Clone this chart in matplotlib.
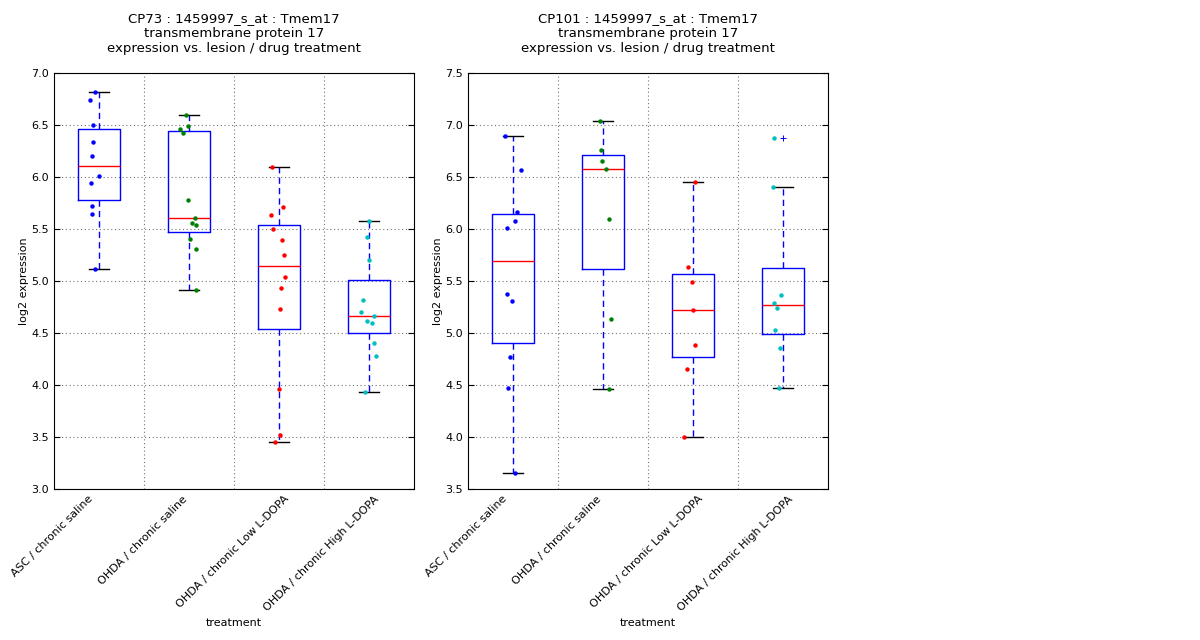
import numpy as np
import matplotlib.pyplot as plt
from matplotlib.transforms import ScaledTranslation

groups = ['ASC / chronic saline', 'OHDA / chronic saline',
          'OHDA / chronic Low L-DOPA', 'OHDA / chronic High L-DOPA']
dot_colors = ['b', 'g', 'r', 'c']
# small horizontal nudge (pixels) of each tick label, as in the original
label_nudge = [-4, 0, 12, 12]

# CP73
cp73_vals = [
    [6.817, 6.743, 6.503, 6.340, 6.205, 6.010, 5.945, 5.724, 5.647, 5.115],
    [6.599, 6.494, 6.465, 6.426, 5.782, 5.609, 5.561, 5.542, 5.407, 5.311, 4.913],
    [6.099, 5.715, 5.638, 5.503, 5.397, 5.253, 5.041, 4.936, 4.734, 3.964, 3.522, 3.455],
    [5.580, 5.423, 5.202, 4.817, 4.702, 4.667, 4.615, 4.599, 4.407, 4.279, 3.933],
]
cp73_jit = [
    [-0.041, -0.096, -0.070, -0.063, -0.081, 0.004, -0.093, -0.081, -0.074, -0.041],
    [-0.037, -0.007, -0.096, -0.063, -0.007, 0.063, 0.037, 0.074, 0.015, 0.081, 0.074],
    [-0.081, 0.041, -0.093, -0.070, 0.030, 0.052, 0.063, 0.019, 0.007, -0.004, 0.007, -0.048],
    [0.004, -0.026, -0.004, -0.070, -0.093, 0.052, -0.026, 0.030, 0.052, 0.074, -0.048],
]

# CP101
cp101_vals = [
    [6.897, 6.570, 6.167, 6.080, 6.013, 5.378, 5.311, 4.772, 4.474, 3.654],
    [7.041, 6.763, 6.657, 6.580, 6.099, 5.137, 4.462],
    [6.455, 5.638, 5.490, 5.221, 4.888, 4.657, 4.000],
    [6.878, 6.407, 5.368, 5.291, 5.243, 5.032, 4.859, 4.474],
]
cp101_jit = [
    [-0.093, 0.093, 0.048, 0.019, -0.070, -0.070, -0.007, -0.030, -0.052, 0.019],
    [-0.037, -0.026, -0.015, 0.030, 0.063, 0.085, 0.063],
    [0.019, -0.052, -0.007, 0.004, 0.019, -0.063, -0.096],
    [-0.096, -0.107, -0.026, -0.104, -0.070, -0.093, -0.037, -0.048],
]

titles = ['CP73 : 1459997_s_at : Tmem17\ntransmembrane protein 17\nexpression vs. lesion / drug treatment',
          'CP101 : 1459997_s_at : Tmem17\ntransmembrane protein 17\nexpression vs. lesion / drug treatment']
ylims = [(3.0, 7.0), (3.5, 7.5)]

grid_kw = dict(color='0.45', ls=(0, (1, 2.4)), lw=0.8)


def draw_panel(ax, vals, jit, title, ylim):
    pos = np.arange(1, len(vals) + 1)
    ax.boxplot(vals, positions=pos, widths=0.46, sym='b+',
               boxprops=dict(color='b', lw=1),
               whiskerprops=dict(color='b', ls=(0, (4.5, 3)), lw=1),
               capprops=dict(color='k', lw=1),
               medianprops=dict(color='r', lw=1),
               flierprops=dict(marker='+', markeredgecolor='b', markersize=5, mew=0.7))
    for i, (v, j) in enumerate(zip(vals, jit)):
        ax.plot(pos[i] + np.array(j), v, 'o', color=dot_colors[i],
                markersize=3.2, mew=0, zorder=3)
    ax.set_xlim(0.5, len(vals) + 0.5)
    ax.set_ylim(*ylim)
    yt = np.arange(ylim[0], ylim[1] + 0.01, 0.5)
    ax.set_yticks(yt)
    ax.set_yticklabels(['%.1f' % t for t in yt])
    ax.set_xticks(pos)
    ax.set_xticks(pos[:-1] + 0.5, minor=True)
    ax.tick_params(axis='x', which='both', length=0)
    ax.tick_params(axis='y', direction='in', right=True, length=4, labelsize=8)
    labels = ax.set_xticklabels(groups, rotation=45, ha='right', fontsize=8)
    for lab, dx in zip(labels, label_nudge):
        lab.set_transform(lab.get_transform() +
                          ScaledTranslation(dx / 100, 0, ax.figure.dpi_scale_trans))
    ax.grid(axis='y', which='major', **grid_kw)
    ax.grid(axis='x', which='minor', **grid_kw)
    ax.set_title(title, fontsize=9.5, pad=15)
    ax.set_xlabel('treatment', fontsize=8)
    ax.set_ylabel('log2 expression', fontsize=8, labelpad=2)


fig = plt.figure(figsize=(12, 6.4), dpi=100)
ax1 = fig.add_axes([0.045, 0.236, 0.3, 0.65])
ax2 = fig.add_axes([0.39, 0.236, 0.3, 0.65])
draw_panel(ax1, cp73_vals, cp73_jit, titles[0], ylims[0])
draw_panel(ax2, cp101_vals, cp101_jit, titles[1], ylims[1])
fig.savefig('out.png', dpi=100)
